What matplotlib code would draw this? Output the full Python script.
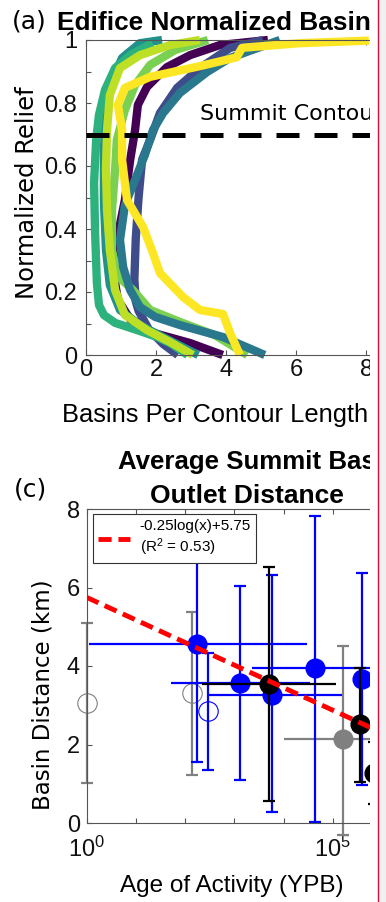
import numpy as np
import matplotlib
matplotlib.use('Agg')
import matplotlib.pyplot as plt
from matplotlib import patches, lines

plt.rcParams['font.family'] = ['Liberation Sans', 'DejaVu Sans']
plt.rcParams['mathtext.fontset'] = 'custom'
plt.rcParams['mathtext.rm'] = 'Liberation Sans'
plt.rcParams['mathtext.it'] = 'Liberation Sans:italic'
plt.rcParams['mathtext.bf'] = 'Liberation Sans:bold'

################ DATA ####################

# (a) basins per contour length vs normalized relief, one curve per edifice
purple_x = [5.19, 3.82, 2.97, 2.31, 1.74, 1.48, 1.40, 1.26, 1.11, 0.88, 0.77, 0.91, 1.31, 1.83, 2.97, 3.90]
purple_y = [1.00, 0.984, 0.952, 0.914, 0.851, 0.794, 0.714, 0.619, 0.492, 0.365, 0.270, 0.175, 0.105, 0.073, 0.038, 0.0]
darkblue_x = [5.05, 4.11, 3.25, 2.60, 2.11, 1.83, 1.60, 1.50, 1.42, 1.38, 1.42, 1.50, 1.80, 2.20, 2.62]
darkblue_y = [1.00, 0.975, 0.911, 0.848, 0.768, 0.683, 0.62, 0.50, 0.37, 0.24, 0.17, 0.14, 0.08, 0.035, 0.0]
tealb_x = [2.17, 1.54, 1.03, 0.74, 0.57, 0.51, 0.51, 0.57, 0.68, 0.97, 1.54, 2.25, 3.20]
tealb_y = [1.00, 0.99, 0.943, 0.873, 0.778, 0.651, 0.492, 0.333, 0.222, 0.143, 0.095, 0.054, 0.0]
lgreen_x = [3.48, 2.54, 1.83, 1.40, 1.11, 0.88, 0.83, 0.74, 0.74, 0.91, 1.34, 1.83, 2.68, 3.68, 4.60]
lgreen_y = [1.00, 0.968, 0.921, 0.857, 0.778, 0.683, 0.587, 0.46, 0.333, 0.25, 0.206, 0.143, 0.105, 0.063, 0.0]
teala_x = [5.53, 4.11, 3.45, 2.68, 2.20, 1.91, 1.68, 1.40, 1.11, 0.97, 1.06, 1.26, 1.54, 1.97, 2.68, 3.91, 5.10]
teala_y = [1.00, 0.943, 0.898, 0.832, 0.768, 0.714, 0.635, 0.556, 0.476, 0.365, 0.279, 0.206, 0.152, 0.121, 0.095, 0.057, 0.0]
green_x = [1.90, 1.26, 0.83, 0.54, 0.37, 0.29, 0.23, 0.26, 0.31, 0.37, 0.51, 0.83, 1.46, 2.03, 2.40, 2.90]
green_y = [0.99, 0.952, 0.911, 0.841, 0.762, 0.683, 0.546, 0.387, 0.229, 0.159, 0.127, 0.102, 0.079, 0.057, 0.038, 0.0]
ygreen_x = [3.25, 2.40, 1.54, 0.97, 0.68, 0.60, 0.57, 0.60, 0.68, 0.83, 1.11, 1.74, 2.40, 3.05]
ygreen_y = [1.00, 0.984, 0.952, 0.911, 0.825, 0.714, 0.587, 0.46, 0.333, 0.206, 0.127, 0.079, 0.041, 0.0]
yellow_x = [8.07, 6.11, 4.54, 4.45, 4.30, 3.25, 1.83, 1.11, 0.91, 1.03, 1.03, 1.17, 1.63, 1.88, 2.11, 2.77, 3.25, 3.91, 4.11, 4.39]
yellow_y = [0.998, 0.99, 0.976, 0.975, 0.945, 0.917, 0.883, 0.848, 0.794, 0.714, 0.619, 0.492, 0.406, 0.333, 0.260, 0.184, 0.143, 0.130, 0.070, 0.0]
summit_relief = 0.7

# (c) summit basin outlet distance vs age of activity
# columns: age, distance, distance low, distance high, age low, age high
blue_fill = np.array([
    [172, 4.57, 1.56, 7.50, 1.12, 29500],
    [1300, 3.57, 1.10, 6.04, 53, 34000],
    [5700, 3.26, 0.29, 6.32, 275, 150000],
    [43000, 3.94, 0.03, 7.82, 2240, 2.0e6],
    [383000, 3.66, 0.97, 6.38, np.nan, np.nan],
])
blue_open = np.array([
    [296, 2.86, 1.35, 4.32, np.nan, np.nan],
])
black_fill = np.array([
    [5100, 3.55, 0.57, 6.53, 218, 118000],
    [352000, 2.51, 1.05, 3.96, np.nan, np.nan],
    [692000, 1.27, 0.48, 2.07, np.nan, np.nan],
])
gray_fill = np.array([
    [162000, 2.15, -0.30, 4.51, 10100, 2.0e6],
])
gray_open = np.array([
    [1.0, 3.05, 1.01, 5.09, np.nan, np.nan],
    [136, 3.31, 1.22, 5.37, np.nan, np.nan],
])
fit_slope, fit_icpt, fit_r2 = -0.25, 5.75, 0.53

################ LAYOUT ####################

W, H = 386, 902
def fx(px): return px / W
def fy(py): return 1 - py / H

AX_COL = '#555555'
fig = plt.figure(figsize=(W / 100, H / 100), dpi=100)

def style_axes(ax):
    for s in ax.spines.values():
        s.set_color(AX_COL)
        s.set_linewidth(0.8)
    ax.tick_params(which='both', direction='in', top=True, right=True,
                   color=AX_COL, width=0.8, length=3.6, labelsize=17, labelcolor='#111111')

# ---- panel (a)
ax_a = fig.add_axes([fx(86), fy(355), 350.5 / W, 315 / H])
style_axes(ax_a)
curves = [
    (purple_x, purple_y, '#440154'),
    (darkblue_x, darkblue_y, '#3e4c8a'),
    (tealb_x, tealb_y, '#21918c'),
    (lgreen_x, lgreen_y, '#7ad151'),
    (teala_x, teala_y, '#2a788e'),
    (green_x, green_y, '#2db27d'),
    (ygreen_x, ygreen_y, '#bddf26'),
    (yellow_x, yellow_y, '#fde725'),
]
for x, y, c in curves:
    ax_a.plot(x, y, color=c, lw=6, solid_capstyle='butt', clip_on=False)
ax_a.axhline(summit_relief, color='black', lw=3.6, dashes=(4.6, 3.0), zorder=5)
ax_a.text(3.25, summit_relief + 0.045, 'Summit Contour', family='DejaVu Sans',
          fontsize=16, va='baseline', ha='left')
ax_a.set_xlim(0, 10)
ax_a.set_ylim(0, 1)
ax_a.set_xticks([0, 2, 4, 6, 8, 10])
ax_a.set_yticks([0, 0.2, 0.4, 0.6, 0.8, 1.0])
ax_a.set_yticklabels(['0', '0.2', '0.4', '0.6', '0.8', '1'])
ax_a.set_yticks([0.1, 0.3, 0.5, 0.7, 0.9], minor=True)
ax_a.tick_params(axis='y', pad=6.5)
ax_a.tick_params(axis='x', pad=3)

fig.text(fx(12), fy(29), '(a)', family='DejaVu Sans', fontsize=18, va='baseline')
fig.text(fx(57), fy(30), 'Edifice Normalized Basin Density', fontsize=18.9,
         fontweight='bold', va='baseline')
fig.text(fx(27), fy(193), 'Normalized Relief', family='DejaVu Sans', fontsize=17.5,
         rotation=90, ha='center', va='center')
fig.text(fx(62), fy(421.7), 'Basins Per Contour Length', fontsize=18.4, va='baseline')

# ---- panel (c)
ax_c = fig.add_axes([fx(86.5), fy(823), 345 / W, 314 / H])
style_axes(ax_c)
ax_c.set_xscale('log')

def draw_group(d, color, filled, z):
    yerr = [d[:, 1] - d[:, 2], d[:, 3] - d[:, 1]]
    ax_c.errorbar(d[:, 0], d[:, 1], yerr=yerr, fmt='none', ecolor=color, elinewidth=1.6,
                  capsize=4, capthick=1.6, zorder=z, clip_on=False)
    has_x = ~np.isnan(d[:, 4])
    if has_x.any():
        ax_c.hlines(d[has_x, 1], d[has_x, 4], d[has_x, 5], color=color, lw=1.6, zorder=z)
    if filled:
        ax_c.plot(d[:, 0], d[:, 1], 'o', ms=13.5, mfc=color, mec=color, zorder=z + 0.1,
                  clip_on=False)
    else:
        ax_c.plot(d[:, 0], d[:, 1], 'o', ms=14, mfc='none', mec=color, mew=0.8,
                  zorder=z + 0.1, clip_on=False)

draw_group(gray_open, '#808080', False, 2)
draw_group(gray_fill, '#808080', True, 2)
draw_group(blue_open, '#0000ff', False, 2.5)
draw_group(blue_fill, '#0000ff', True, 2.5)
draw_group(black_fill, 'black', True, 3)

age_fit = np.array([1.0, 1e7])
fit_line, = ax_c.plot(age_fit, fit_slope * np.log(age_fit) + fit_icpt, color='#ff0000',
                      lw=3.5, dashes=(2.7, 1.4), zorder=4)
leg = ax_c.legend([fit_line], ['-0.25log(x)+5.75\n(R$^2$ = 0.53)'], loc='upper left',
                  bbox_to_anchor=(fx(93), fy(514)), bbox_transform=fig.transFigure,
                  fancybox=False, framealpha=1, edgecolor='#333333', fontsize=11,
                  handlelength=2.1, handletextpad=0.6, borderpad=0.35, borderaxespad=0)
leg.get_frame().set_linewidth(0.8)
leg.set_zorder(6)

ax_c.set_xlim(1, 1e7)
ax_c.set_ylim(0, 8)
ax_c.set_xticks(10.0 ** np.arange(0, 8))
ax_c.set_xticklabels(['$10^{%d}$' % k if k in (0, 5) else '' for k in range(8)])
ax_c.minorticks_off()
ax_c.set_yticks([0, 2, 4, 6, 8])
ax_c.tick_params(axis='y', pad=4.7)
ax_c.tick_params(axis='x', pad=10)

fig.text(fx(14), fy(496), '(c)', family='DejaVu Sans', fontsize=18, va='baseline')
fig.text(fx(118), fy(469), 'Average Summit Basin', fontsize=18.6, fontweight='bold',
         va='baseline')
fig.text(fx(150), fy(503), 'Outlet Distance', fontsize=19, fontweight='bold',
         va='baseline')
fig.text(fx(43), fy(695), 'Basin Distance (km)', family='DejaVu Sans', fontsize=16.5,
         rotation=90, ha='center', va='center')
fig.text(fx(120), fy(891.7), 'Age of Activity (YPB)', fontsize=17.5, va='baseline')

# ---- crop edge of the original page
fig.add_artist(patches.Rectangle((fx(370), 0), fx(378) - fx(370), 1, transform=fig.transFigure,
                                 facecolor='white', edgecolor='none', zorder=20))
fig.add_artist(patches.Rectangle((fx(378.5), 0), 1 - fx(378.5), 1, transform=fig.transFigure,
                                 facecolor='#f0f0f0', edgecolor='none', zorder=20))
fig.add_artist(lines.Line2D([fx(378.3), fx(378.3)], [0, 1], transform=fig.transFigure,
                            color='#d0103f', lw=1.0, zorder=21))

fig.savefig('out.png', dpi=100)
